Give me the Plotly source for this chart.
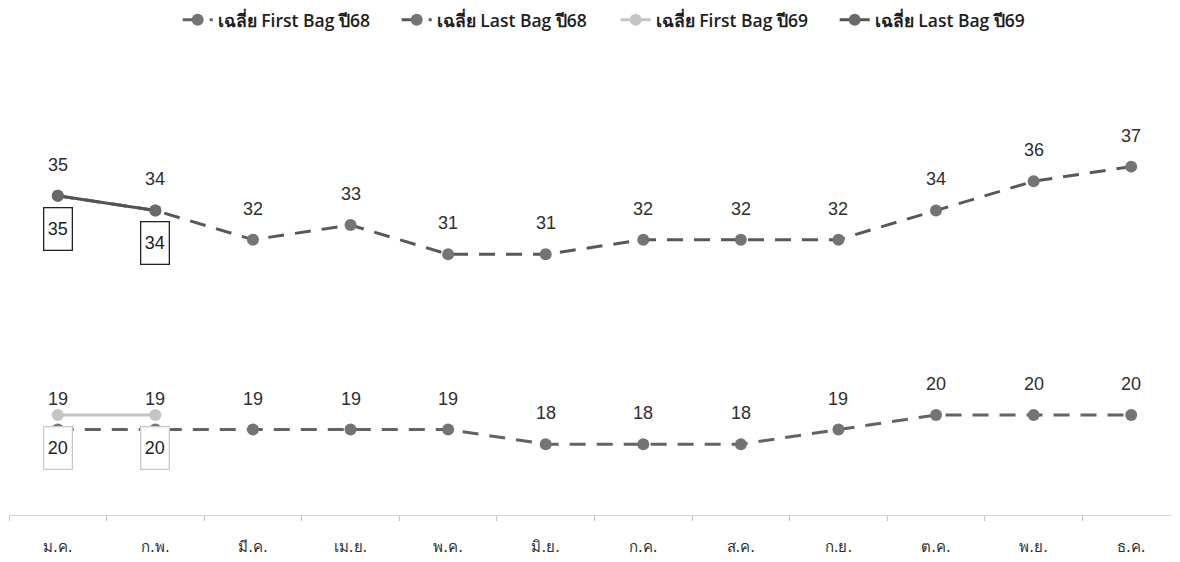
import plotly.graph_objects as go

months = ["ม.ค.", "ก.พ.", "มี.ค.", "เม.ย.", "พ.ค.", "มิ.ย.", "ก.ค.", "ส.ค.", "ก.ย.", "ต.ค.", "พ.ย.", "ธ.ค."]
first_bag_68 = [19, 19, 19, 19, 19, 18, 18, 18, 19, 20, 20, 20]
last_bag_68 = [35, 34, 32, 33, 31, 31, 32, 32, 32, 34, 36, 37]
first_bag_69 = [20, 20]
last_bag_69 = [35, 34]

names = ["เฉลี่ย First Bag ปี68", "เฉลี่ย Last Bag ปี68", "เฉลี่ย First Bag ปี69", "เฉลี่ย Last Bag ปี69"]

C_FB68 = "#636363"
C_LB68 = "#585858"
C_FB69 = "#c4c4c4"
C_LB69 = "#545454"
M_68 = "#747474"

fig = go.Figure()
fig.add_trace(go.Scatter(x=months, y=first_bag_68, name=names[0], mode="lines+markers",
                         line=dict(color=C_FB68, width=3, dash="16px,11px"),
                         marker=dict(color=M_68, size=12)))
fig.add_trace(go.Scatter(x=months, y=last_bag_68, name=names[1], mode="lines+markers",
                         line=dict(color=C_LB68, width=3, dash="16px,11px"),
                         marker=dict(color=M_68, size=12)))
fig.add_trace(go.Scatter(x=months[:len(first_bag_69)], y=first_bag_69, name=names[2], mode="lines+markers",
                         line=dict(color=C_FB69, width=3),
                         marker=dict(color=C_FB69, size=12)))
fig.add_trace(go.Scatter(x=months[:len(last_bag_69)], y=last_bag_69, name=names[3], mode="lines+markers",
                         line=dict(color=C_LB69, width=3),
                         marker=dict(color="#6a6a6a", size=12)))

FONT = "Liberation Sans, Arial, sans-serif"
lab_font = dict(family=FONT, size=18, color="#2e2e2e")
annotations = []
for series in (first_bag_68, last_bag_68):
    for m, v in zip(months, series):
        annotations.append(dict(x=m, y=v, text=str(v), showarrow=False, yshift=31, font=lab_font))
for series, bc in ((first_bag_69, "#c8c8c8"), (last_bag_69, "#222222")):
    for m, v in zip(months, series):
        annotations.append(dict(x=m, y=v, text=str(v), showarrow=False, yshift=-33,
                                width=25, height=39, bordercolor=bc, borderwidth=1.3,
                                bgcolor="white",
                                font=dict(family=FONT, size=18, color="#1e1e1e")))

fig.update_layout(
    width=1180, height=562,
    margin=dict(l=1, r=8, t=52, b=55),
    paper_bgcolor="white", plot_bgcolor="white",
    showlegend=True,
    legend=dict(orientation="h", x=0.515, xanchor="center", xref="container",
                y=0.979, yanchor="middle", yref="container",
                font=dict(family="Open Sans, sans-serif", size=17.5, color="#1e1e1e", weight=600),
                entrywidth=174, traceorder="normal"),
    annotations=annotations,
    xaxis=dict(type="category", showgrid=False, showline=True, linecolor="#d4d4d4", linewidth=1,
               ticks="outside", tickson="boundaries", ticklen=5, tickcolor="#c8c8c8",
               tickfont=dict(family="DejaVu Sans, sans-serif", size=15, color="#2e2e2e"),
               ticklabelstandoff=18, range=[-0.5, 11.5]),
    yaxis=dict(range=[13.15, 44.3], showgrid=False, showticklabels=False, zeroline=False, showline=False),
)

fig.write_html("out.html")
